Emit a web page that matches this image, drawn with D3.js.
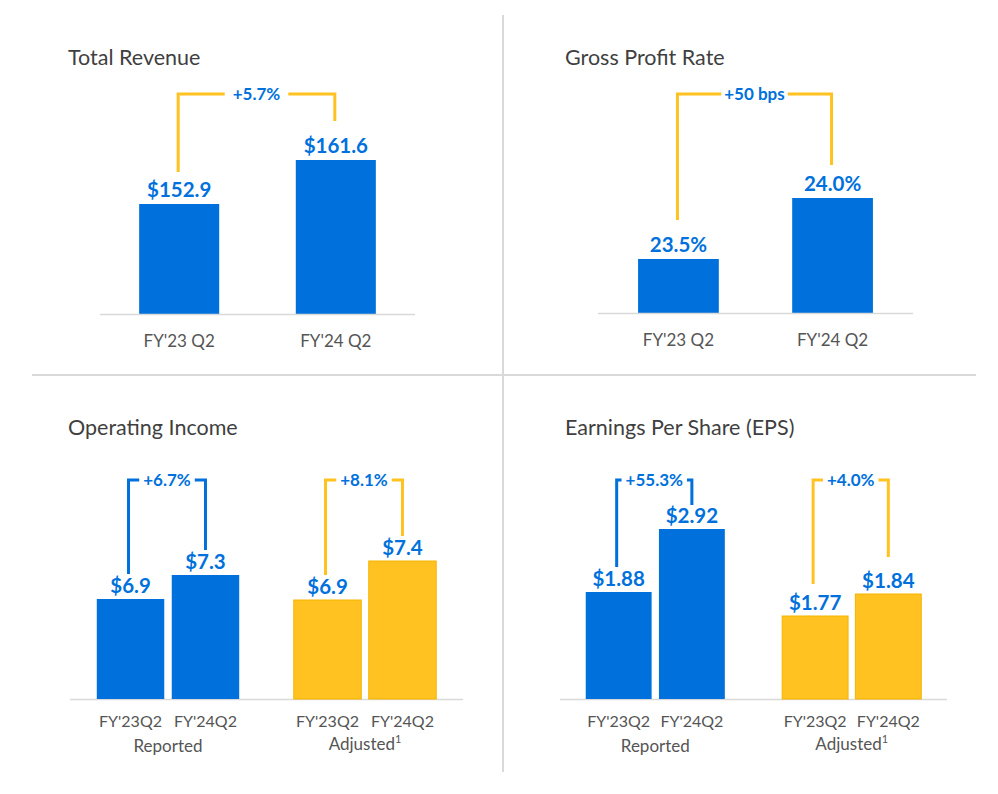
<!DOCTYPE html>
<html>
<head>
<meta charset="utf-8">
<script src="https://cdn.jsdelivr.net/npm/d3@7"></script>
<style>
  html, body { margin: 0; padding: 0; background: #fff; }
  svg { display: block; font-family: Lato, "Open Sans", sans-serif; }
</style>
</head>
<body>
<svg id="chart" width="998" height="794"></svg>
<script>
// ---------- DATA ----------
const revenueCategories = ["FY'23 Q2", "FY'24 Q2"];
const revenueValues = [152.9, 161.6];
const revenueLabels = ["$152.9", "$161.6"];
const revenueChange = "+5.7%";

const grossProfitCategories = ["FY'23 Q2", "FY'24 Q2"];
const grossProfitValues = [23.5, 24.0];
const grossProfitLabels = ["23.5%", "24.0%"];
const grossProfitChange = "+50 bps";

const groupNames = ["Reported", "Adjusted"];
const groupCategories = ["FY'23Q2", "FY'24Q2"];

const opIncomeReported = [6.9, 7.3];
const opIncomeAdjusted = [6.9, 7.4];
const opIncomeReportedLabels = ["$6.9", "$7.3"];
const opIncomeAdjustedLabels = ["$6.9", "$7.4"];
const opIncomeChanges = ["+6.7%", "+8.1%"];

const epsReported = [1.88, 2.92];
const epsAdjusted = [1.77, 1.84];
const epsReportedLabels = ["$1.88", "$2.92"];
const epsAdjustedLabels = ["$1.77", "$1.84"];
const epsChanges = ["+55.3%", "+4.0%"];

// ---------- STYLE ----------
const BLUE = "#0071DC";
const YELLOW = "#FFC220";
const TITLE_COLOR = "#3f3f3f";
const AXIS_TEXT = "#555555";
const RULE = "#d9d9d9";

const svg = d3.select("#chart");

// dividers
svg.append("line").attr("x1", 503).attr("x2", 503).attr("y1", 15).attr("y2", 772)
  .attr("stroke", RULE).attr("stroke-width", 2);
svg.append("line").attr("x1", 32).attr("x2", 976).attr("y1", 375).attr("y2", 375)
  .attr("stroke", RULE).attr("stroke-width", 2);

function title(x, y, text) {
  svg.append("text").attr("x", x).attr("y", y).text(text)
    .attr("fill", TITLE_COLOR).attr("font-size", 21.5).attr("font-weight", 400);
}

function bracket(g, x1, y1bottom, x2, y2bottom, ytop, label, color, pad) {
  const t = g.append("text").attr("x", (x1 + x2) / 2).attr("y", ytop).attr("dy", "0.36em")
    .attr("text-anchor", "middle").attr("fill", BLUE).attr("font-size", 17)
    .attr("font-weight", 700).text(label);
  const w = t.node().getComputedTextLength();
  const cx = (x1 + x2) / 2;
  const path = d3.path();
  path.moveTo(x1, y1bottom); path.lineTo(x1, ytop); path.lineTo(cx - w / 2 - pad, ytop);
  path.moveTo(cx + w / 2 + pad, ytop); path.lineTo(x2, ytop); path.lineTo(x2, y2bottom);
  g.insert("path", "text").attr("d", path.toString()).attr("fill", "none")
    .attr("stroke", color).attr("stroke-width", 3);
}

// ---------- simple two-bar panel ----------
function simplePanel(cfg) {
  const g = svg.append("g");
  title(cfg.titleX, cfg.titleY, cfg.title);
  const x = d3.scaleBand().domain(cfg.categories).range(cfg.xRange)
    .paddingInner(cfg.padInner).paddingOuter(cfg.padOuter);
  const y = d3.scaleLinear().domain(cfg.yDomain).range([cfg.baseline, cfg.baseline - cfg.yHeight]);
  const data = cfg.categories.map((c, i) => ({ c, v: cfg.values[i], l: cfg.labels[i] }));

  g.selectAll("rect").data(data).join("rect")
    .attr("x", d => x(d.c)).attr("width", x.bandwidth())
    .attr("y", d => y(d.v)).attr("height", d => cfg.baseline - y(d.v))
    .attr("fill", BLUE);

  g.append("line").attr("x1", cfg.xRange[0]).attr("x2", cfg.xRange[1])
    .attr("y1", cfg.baseline + 0.5).attr("y2", cfg.baseline + 0.5)
    .attr("stroke", RULE).attr("stroke-width", 1.5);

  g.selectAll("text.val").data(data).join("text").attr("class", "val")
    .attr("x", d => x(d.c) + x.bandwidth() / 2).attr("y", d => y(d.v) - 7)
    .attr("text-anchor", "middle").attr("fill", BLUE).attr("font-size", 20.5)
    .attr("font-weight", 700).text(d => d.l);

  g.selectAll("text.cat").data(data).join("text").attr("class", "cat")
    .attr("x", d => x(d.c) + x.bandwidth() / 2).attr("y", cfg.baseline + 33)
    .attr("text-anchor", "middle").attr("fill", AXIS_TEXT).attr("font-size", 17).text(d => d.c);

  const c0 = x(data[0].c) + x.bandwidth() / 2 - 1;
  const c1 = x(data[1].c) + x.bandwidth() / 2 - 1;
  bracket(g, c0, y(data[0].v) - 7 - cfg.legGap[0], c1, y(data[1].v) - 7 - cfg.legGap[1],
    cfg.bracketY, cfg.change, YELLOW, cfg.pad);
}

simplePanel({
  title: "Total Revenue", titleX: 68, titleY: 65,
  categories: revenueCategories, values: revenueValues, labels: revenueLabels, change: revenueChange,
  xRange: [100, 415], padInner: 0.489, padOuter: 0.25,
  yDomain: [131.15, 161.6], yHeight: 154, baseline: 314,
  bracketY: 94, legGap: [25, 32], pad: 8
});

simplePanel({
  title: "Gross Profit Rate", titleX: 565, titleY: 65,
  categories: grossProfitCategories, values: grossProfitValues, labels: grossProfitLabels, change: grossProfitChange,
  xRange: [598, 913], padInner: 0.476, padOuter: 0.26,
  yDomain: [23.057, 24.0], yHeight: 115, baseline: 313,
  bracketY: 94, legGap: [32, 26], pad: 3
});

// ---------- grouped panel ----------
function groupedPanel(cfg) {
  const g = svg.append("g");
  title(cfg.titleX, cfg.titleY, cfg.title);
  const outer = d3.scaleBand().domain(groupNames).range(cfg.xRange)
    .paddingInner(cfg.outerPadInner).paddingOuter(cfg.outerPadOuter);
  const inner = d3.scaleBand().domain(groupCategories).range([0, outer.bandwidth()])
    .paddingInner(0.1).paddingOuter(0);

  const groups = [
    { name: groupNames[0], display: "Reported", values: cfg.reported, labels: cfg.reportedLabels,
      color: BLUE, change: cfg.changes[0], y: cfg.yReported, legGap: cfg.legGaps[0] },
    { name: groupNames[1], display: "Adjusted", values: cfg.adjusted, labels: cfg.adjustedLabels,
      color: YELLOW, change: cfg.changes[1], y: cfg.yAdjusted, legGap: cfg.legGaps[1] }
  ];

  g.append("line").attr("x1", cfg.xRange[0]).attr("x2", cfg.xRange[1])
    .attr("y1", cfg.baseline + 0.5).attr("y2", cfg.baseline + 0.5)
    .attr("stroke", RULE).attr("stroke-width", 1.5);

  groups.forEach((grp, gi) => {
    const y = d3.scaleLinear().domain(grp.y.domain).range([cfg.baseline, cfg.baseline - grp.y.height]);
    const gx = outer(grp.name);
    const data = groupCategories.map((c, i) => ({ c, v: grp.values[i], l: grp.labels[i] }));
    const gg = g.append("g").attr("transform", `translate(${gx},0)`);

    gg.selectAll("rect").data(data).join("rect")
      .attr("x", d => inner(d.c)).attr("width", inner.bandwidth())
      .attr("y", d => y(d.v)).attr("height", d => cfg.baseline - y(d.v))
      .attr("fill", grp.color)
      .attr("stroke", gi === 1 ? "#F5B400" : "none").attr("stroke-width", gi === 1 ? 1 : 0);

    gg.selectAll("text.val").data(data).join("text").attr("class", "val")
      .attr("x", d => inner(d.c) + inner.bandwidth() / 2).attr("y", d => y(d.v) - 6)
      .attr("text-anchor", "middle").attr("fill", BLUE).attr("font-size", 20.5)
      .attr("font-weight", 700).text(d => d.l);

    gg.selectAll("text.cat").data(data).join("text").attr("class", "cat")
      .attr("x", d => inner(d.c) + inner.bandwidth() / 2).attr("y", cfg.baseline + 28)
      .attr("text-anchor", "middle").attr("fill", AXIS_TEXT).attr("font-size", 16).text(d => d.c);

    const gl = gg.append("text").attr("x", outer.bandwidth() / 2)
      .attr("y", cfg.baseline + (gi === 0 ? 53 : 51))
      .attr("text-anchor", "middle").attr("fill", AXIS_TEXT).attr("font-size", 17);
    gl.append("tspan").text(grp.display);
    if (gi === 1) {
      gl.append("tspan").attr("font-size", 11).attr("dy", -7).text("1");
    }

    const c0 = inner(data[0].c) + inner.bandwidth() / 2 - 2;
    const c1 = inner(data[1].c) + inner.bandwidth() / 2;
    bracket(gg, c0, y(data[0].v) - 6 - grp.legGap[0], c1, y(data[1].v) - 6 - grp.legGap[1],
      cfg.bracketY, grp.change, grp.color, 4);
  });
}

groupedPanel({
  title: "Operating Income", titleX: 68, titleY: 435,
  reported: opIncomeReported, adjusted: opIncomeAdjusted,
  reportedLabels: opIncomeReportedLabels, adjustedLabels: opIncomeAdjustedLabels,
  changes: opIncomeChanges,
  xRange: [70, 463], outerPadInner: 0.277, outerPadOuter: 0.136,
  baseline: 699, bracketY: 480,
  yReported: { domain: [5.233, 7.3], height: 124 },
  yAdjusted: { domain: [5.631, 7.4], height: 138 },
  legGaps: [[19, 19], [19, 19]]
});

groupedPanel({
  title: "Earnings Per Share (EPS)", titleX: 565, titleY: 435,
  reported: epsReported, adjusted: epsAdjusted,
  reportedLabels: epsReportedLabels, adjustedLabels: epsAdjustedLabels,
  changes: epsChanges,
  xRange: [560, 947], outerPadInner: 0.292, outerPadOuter: 0.131,
  baseline: 699, bracketY: 480,
  yReported: { domain: [0.114, 2.92], height: 170 },
  yAdjusted: { domain: [1.506, 1.84], height: 105 },
  legGaps: [[19, 18], [26, 31]]
});
</script>
</body>
</html>
